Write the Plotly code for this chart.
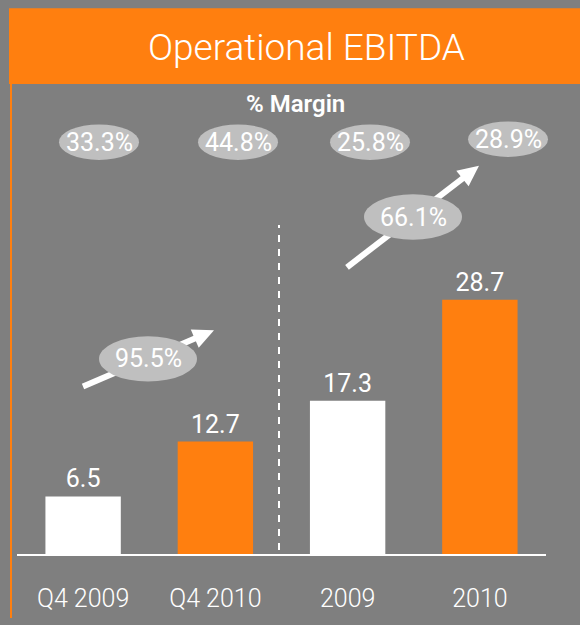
import math
import plotly.graph_objects as go

# ---- data ----
categories = ["Q4 2009", "Q4 2010", "2009", "2010"]
ebitda = [6.5, 12.7, 17.3, 28.7]
margins = ["33.3%", "44.8%", "25.8%", "28.9%"]
growth_labels = ["95.5%", "66.1%"]

# ---- style ----
BG = "#7F7F7F"
ORANGE = "#FF7F0F"
PILL = "#BFBFBF"
bar_colors = ["#FFFFFF", ORANGE, "#FFFFFF", ORANGE]
FONT = "Roboto, sans-serif"

W, H = 580, 625
PL, PR, PT, PB = 17, 546, 85, 561
PX_PER_UNIT = 8.99


def fx(px):
    return (px - PL) / (PR - PL)


def fy(py):
    return (PB - py) / (PB - PT)


fig = go.Figure()
fig.add_trace(go.Bar(
    x=categories, y=ebitda, marker=dict(color=bar_colors, line=dict(width=0)),
    width=0.57, text=[f"{v:.1f}" for v in ebitda], textposition="outside",
    textfont=dict(family=FONT, size=25, color="white", weight=400), cliponaxis=False,
    hoverinfo="skip",
))

shapes = []
annotations = []


def label(text, cx, cy, size, weight=400):
    annotations.append(dict(text=text, xref="paper", yref="paper", x=fx(cx), y=fy(cy),
                            xanchor="center", yanchor="middle", showarrow=False,
                            font=dict(family=FONT, size=size, color="white", weight=weight)))


# title bar
shapes.append(dict(type="rect", xref="paper", yref="paper", x0=fx(9), x1=fx(581),
                   y0=fy(84), y1=fy(7), fillcolor=ORANGE, line=dict(width=0), layer="above"))
# left orange rule
shapes.append(dict(type="line", xref="paper", yref="paper", x0=fx(11), x1=fx(11),
                   y0=fy(84), y1=fy(626), line=dict(color=ORANGE, width=2)))
label("Operational EBITDA", 306, 47, 37, weight=300)

# dashed separator
shapes.append(dict(type="line", xref="paper", yref="paper", x0=fx(279), x1=fx(279),
                   y0=fy(557), y1=fy(227), line=dict(color="white", width=2, dash="7px,7px")))

# % Margin header
label("% Margin", 295, 104, 24, weight=600)

# margin pills
margin_centers = [(99, 143), (238, 143), (370, 143), (508, 140)]
for (cx, cy), lab in zip(margin_centers, margins):
    shapes.append(dict(type="circle", xref="paper", yref="paper",
                       x0=fx(cx - 40), x1=fx(cx + 40), y0=fy(cy + 18), y1=fy(cy - 18),
                       fillcolor=PILL, line=dict(width=0), layer="above"))
    label(lab, cx, cy, 25)


def arrow(tail, tip, width=6, head_len=21, head_half=10):
    (x0, y0), (x1, y1) = tail, tip
    dx, dy = x1 - x0, y1 - y0
    L = math.hypot(dx, dy)
    ux, uy = dx / L, dy / L
    nx, ny = -uy, ux
    bx, by = x1 - head_len * ux, y1 - head_len * uy
    shapes.append(dict(type="line", xref="paper", yref="paper", x0=fx(x0), y0=fy(y0),
                       x1=fx(bx + 2 * ux), y1=fy(by + 2 * uy),
                       line=dict(color="white", width=width), layer="above"))
    pts = [(x1, y1), (bx + head_half * nx, by + head_half * ny), (bx - head_half * nx, by - head_half * ny)]
    path = "M " + " L ".join(f"{fx(px):.5f},{fy(py):.5f}" for px, py in pts) + " Z"
    shapes.append(dict(type="path", xref="paper", yref="paper", path=path,
                       fillcolor="white", line=dict(width=0), layer="above"))


arrow((83, 391), (214, 334))
arrow((347, 270), (479, 167))

growth_centers = [(148, 363), (413, 219)]
for (cx, cy), lab in zip(growth_centers, growth_labels):
    shapes.append(dict(type="circle", xref="paper", yref="paper",
                       x0=fx(cx - 49), x1=fx(cx + 49), y0=fy(cy + 23), y1=fy(cy - 23),
                       fillcolor=PILL, line=dict(width=0), layer="above"))
    label(lab, cx, cy, 25)

fig.update_layout(
    width=W, height=H, autosize=False,
    margin=dict(l=PL, r=W - PR, t=PT, b=H - PB, pad=0),
    paper_bgcolor=BG, plot_bgcolor=BG, showlegend=False,
    shapes=shapes, annotations=annotations,
    xaxis=dict(showline=True, linecolor="white", linewidth=2, showgrid=False,
               zeroline=False, ticks="", ticklabelstandoff=21,
               tickfont=dict(family=FONT, size=25, color="white", weight=300), fixedrange=True),
    yaxis=dict(range=[0, (PB - PT) / PX_PER_UNIT], visible=False, showgrid=False,
               zeroline=False, fixedrange=True),
)

post = (
    "var s=document.createElement('style');"
    "s.textContent='html,body{margin:0;padding:0;width:580px;height:625px;overflow:hidden;background:#7F7F7F;}"
    "body>div{height:625px;overflow:hidden;line-height:0;}"
    ".plotly-graph-div{overflow:hidden;line-height:0;}';"
    "document.head.appendChild(s);"
)
fig.write_html("out.html", config={"displayModeBar": False}, post_script=post)
